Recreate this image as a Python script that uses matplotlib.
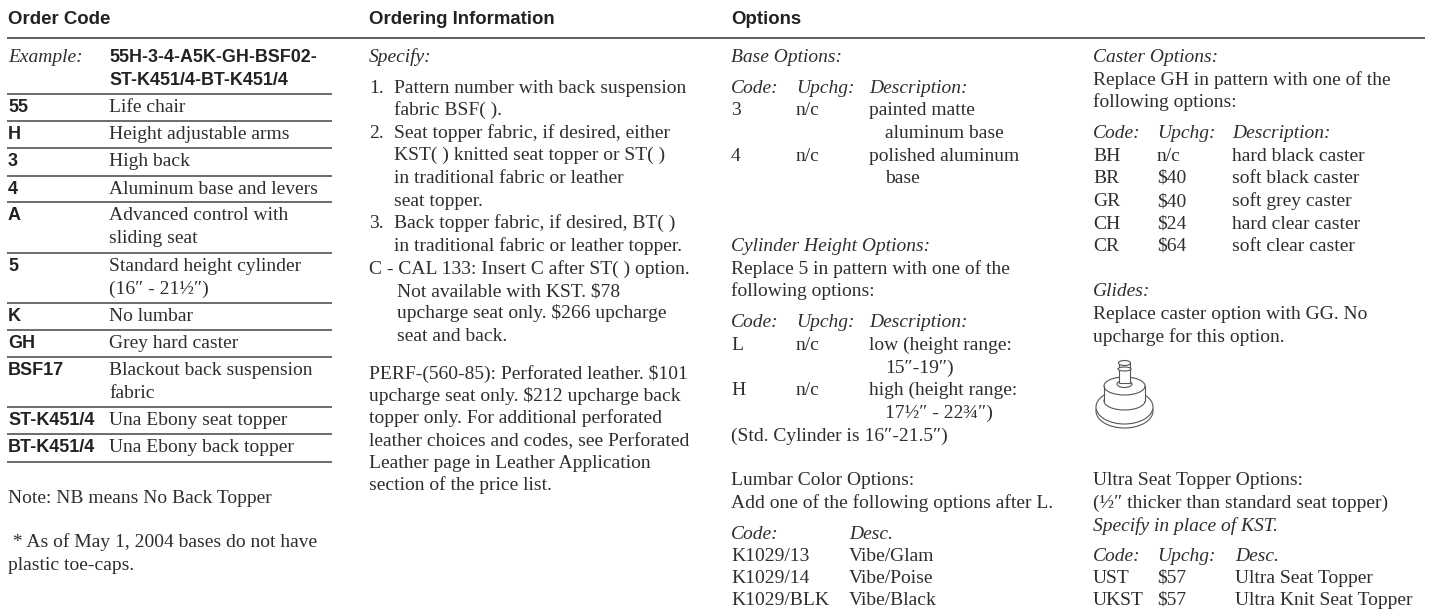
import matplotlib
matplotlib.use("Agg")
import matplotlib.pyplot as plt
from matplotlib.patches import Ellipse, Rectangle

W, H = 1435, 612
SERIF = ["Liberation Serif", "DejaVu Serif"]
SANS = ["Liberation Sans", "DejaVu Sans"]
INK = "#2e2e2e"

headers = [("Order Code", 8), ("Ordering Information", 369), ("Options", 731)]

order_codes = ["55", "H", "3", "4", "A", "5", "K", "GH", "BSF17", "ST-K451/4", "BT-K451/4"]
order_desc = ["Life chair", "Height adjustable arms", "High back", "Aluminum base and levers",
              "Advanced control with\nsliding seat", "Standard height cylinder\n(16\u2033 - 21\u00bd\u2033)",
              "No lumbar", "Grey hard caster", "Blackout back suspension\nfabric",
              "Una Ebony seat topper", "Una Ebony back topper"]
order_rule_y = [94, 121, 148, 176, 202, 253, 303, 330, 357, 407, 434, 462]

ordering_lines = [
    (369, 62, "Specify:", True),
    (369, 93, "1.", False), (394, 93, "Pattern number with back suspension", False),
    (394, 115, "fabric BSF( ).", False),
    (369, 138, "2.", False), (394, 138, "Seat topper fabric, if desired, either", False),
    (394, 160, "KST( ) knitted seat topper or ST( )", False), (394, 183, "in traditional fabric or leather", False),
    (394, 206, "seat topper.", False),
    (369, 228, "3.", False), (394, 228, "Back topper fabric, if desired, BT( )", False),
    (394, 251, "in traditional fabric or leather topper.", False),
    (369, 274, "C - CAL 133: Insert C after ST( ) option.", False),
    (397, 296, "Not available with KST. $78", False), (397, 318, "upcharge seat only. $266 upcharge", False),
    (397, 341, "seat and back.", False), (369, 379, "PERF-(560-85): Perforated leather. $101", False),
    (369, 401, "upcharge seat only. $212 upcharge back", False), (369, 423, "topper only. For additional perforated", False),
    (369, 446, "leather choices and codes, see Perforated", False), (369, 468, "Leather page in Leather Application", False),
    (369, 490, "section of the price list.", False),
]

options_lines = [
    (731, 62, "Base Options:", True),
    (731, 93, "Code:", True), (796, 93, "Upchg:", True), (869, 93, "Description:", True),
    (731, 115, "3", False), (796, 115, "n/c", False), (869, 115, "painted matte", False),
    (885, 138, "aluminum base", False),
    (731, 161, "4", False), (796, 161, "n/c", False), (869, 161, "polished aluminum", False),
    (885, 183, "base", False),
    (731, 251, "Cylinder Height Options:", True),
    (731, 274, "Replace 5 in pattern with one of the", False), (731, 296, "following options:", False),
    (731, 327, "Code:", True), (796, 327, "Upchg:", True), (869, 327, "Description:", True),
    (731, 350, "L", False), (796, 350, "n/c", False), (869, 350, "low (height range:", False),
    (885, 373, "15\u2033-19\u2033)", False),
    (731, 395, "H", False), (796, 395, "n/c", False), (869, 395, "high (height range:", False),
    (885, 418, "17\u00bd\u2033 - 22\u00be\u2033)", False),
    (731, 441, "(Std. Cylinder is 16\u2033-21.5\u2033)", False),
    (731, 485, "Lumbar Color Options:", False), (731, 508, "Add one of the following options after L.", False),
    (731, 539, "Code:", True), (849, 539, "Desc.", True),
    (731, 561, "K1029/13", False), (849, 561, "Vibe/Glam", False),
    (731, 583, "K1029/14", False), (849, 583, "Vibe/Poise", False),
    (731, 605, "K1029/BLK", False), (849, 605, "Vibe/Black", False),
    (1093, 62, "Caster Options:", True),
    (1093, 85, "Replace GH in pattern with one of the", False), (1093, 107, "following options:", False),
    (1093, 138, "Code:", True), (1157, 138, "Upchg:", True), (1232, 138, "Description:", True),
    (1093, 161, "BH", False), (1157, 161, "n/c", False), (1232, 161, "hard black caster", False),
    (1093, 183, "BR", False), (1157, 183, "$40", False), (1232, 183, "soft black caster", False),
    (1093, 206, "GR", False), (1157, 206, "$40", False), (1232, 206, "soft grey caster", False),
    (1093, 229, "CH", False), (1157, 229, "$24", False), (1232, 229, "hard clear caster", False),
    (1093, 251, "CR", False), (1157, 251, "$64", False), (1232, 251, "soft clear caster", False),
    (1093, 296, "Glides:", True),
    (1093, 319, "Replace caster option with GG. No", False), (1093, 342, "upcharge for this option.", False),
    (1093, 485, "Ultra Seat Topper Options:", False),
    (1093, 508, "(\u00bd\u2033 thicker than standard seat topper)", False),
    (1093, 531, "Specify in place of KST.", True),
    (1093, 561, "Code:", True), (1157, 561, "Upchg:", True), (1235, 561, "Desc.", True),
    (1093, 583, "UST", False), (1157, 583, "$57", False), (1235, 583, "Ultra Seat Topper", False),
    (1093, 605, "UKST", False), (1157, 605, "$57", False), (1235, 605, "Ultra Knit Seat Topper", False),
]

fig = plt.figure(figsize=(W / 100, H / 100), dpi=100, facecolor="white")
ax = fig.add_axes([0, 0, 1, 1])
ax.set_xlim(0, W)
ax.set_ylim(H, 0)
ax.axis("off")

BODY = 14.0


def serif(x, y, s, italic=False, size=BODY):
    ax.text(x, y, s, family=SERIF, style="italic" if italic else "normal", fontsize=size,
            color=INK, va="baseline", ha="left")


def sans(x, y, s, size=13.0):
    ax.text(x, y, s, family=SANS, weight="bold", fontsize=size, color="#222222", va="baseline", ha="left")


for label, x in headers:
    sans(x, 23.5, label, size=13.4)

ax.plot([7, 1425], [38, 38], color="#333333", lw=1.1, solid_capstyle="butt")

serif(8, 62, "Example:", True)
sans(109, 62, "55H-3-4-A5K-GH-BSF02-", size=12.9)
sans(109, 85, "ST-K451/4-BT-K451/4", size=12.9)

for y in order_rule_y:
    ax.plot([7, 332], [y, y], color="#444444", lw=1.1, solid_capstyle="butt")

for i, (code, desc) in enumerate(zip(order_codes, order_desc)):
    base = order_rule_y[i] + 18
    sans(8, base, code, size=13.0)
    for j, line in enumerate(desc.split("\n")):
        serif(109, base + 23 * j, line)

serif(8, 503, "Note: NB means No Back Topper")
serif(8, 547, " * As of May 1, 2004 bases do not have")
serif(8, 570, "plastic toe-caps.")

for x, y, s, it in ordering_lines + options_lines:
    serif(x, y, s, it)

# glide drawing
g = dict(fc="white", ec="#555555", lw=0.8)
ax.add_patch(Ellipse((1124.5, 411), 57, 34, **g))
ax.add_patch(Ellipse((1124.5, 407), 57, 34, **g))
ax.add_patch(Ellipse((1124.5, 401), 41, 18, **g))
ax.add_patch(Rectangle((1104, 386), 41, 15, fc="white", ec="none"))
ax.plot([1104, 1104], [386, 401], color="#555555", lw=0.8)
ax.plot([1145, 1145], [386, 401], color="#555555", lw=0.8)
ax.add_patch(Ellipse((1124.5, 386), 41, 18, **g))
ax.add_patch(Ellipse((1124.5, 384), 15, 7, **g))
ax.add_patch(Rectangle((1119, 363), 11, 20, **g))
ax.add_patch(Ellipse((1124.5, 369), 13, 4, **g))
ax.add_patch(Ellipse((1124.5, 363), 12, 5, **g))

fig.savefig("out.png", dpi=100)
